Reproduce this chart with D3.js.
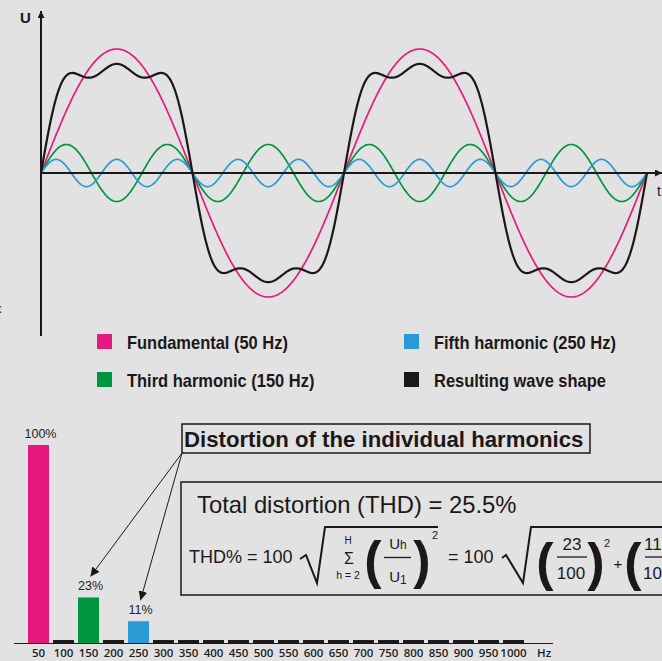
<!DOCTYPE html>
<html>
<head>
<meta charset="utf-8">
<script src="https://cdn.jsdelivr.net/npm/d3@7"></script>
<style>
  html, body { margin: 0; padding: 0; background: #e2e2e2; overflow: hidden; }
  svg { display: block; }
  text { font-family: "Liberation Sans", Arial, sans-serif; fill: #1c1819; }
  .legend text { font-family: "Liberation Sans", Arial, sans-serif; font-weight: bold; font-size: 18.5px; }
</style>
</head>
<body>
<script>
const width = 662, height = 661;

// harmonic content of the wave (percent of fundamental)
const harmonicNames = ["Fundamental (50 Hz)", "Third harmonic (150 Hz)", "Fifth harmonic (250 Hz)"];
const harmonicFreqs = [50, 150, 250];
const harmonicAmps = [100, 23, 11];
const harmonicColors = ["#e61a7e", "#00963f", "#2a9ad6"];
const resultName = "Resulting wave shape";
const resultColor = "#1c1819";

// spectrum bars
const spectrumFreqs = [50, 100, 150, 200, 250, 300, 350, 400, 450, 500, 550, 600, 650, 700, 750, 800, 850, 900, 950, 1000];
const spectrumValues = [100, 1.5, 23, 1.5, 11, 1.5, 1.5, 1.5, 1.5, 1.5, 1.5, 1.5, 1.5, 1.5, 1.5, 1.5, 1.5, 1.5, 1.5, 1.5];
const spectrumLabels = {50: "100%", 150: "23%", 250: "11%"};
const thdValue = 25.5;

const svg = d3.select("body").append("svg")
    .attr("width", width)
    .attr("height", height);

const defs = svg.append("defs");
defs.append("marker")
    .attr("id", "arrow")
    .attr("viewBox", "0 0 10 10")
    .attr("refX", 10).attr("refY", 5)
    .attr("markerWidth", 9).attr("markerHeight", 9)
    .attr("markerUnits", "userSpaceOnUse")
    .attr("orient", "auto")
    .append("path").attr("d", "M0,0 L10,5 L0,10 Z").attr("fill", "#1c1819");
defs.append("marker")
    .attr("id", "axarrow")
    .attr("viewBox", "0 0 10 10")
    .attr("refX", 10).attr("refY", 5)
    .attr("markerWidth", 8).attr("markerHeight", 7)
    .attr("markerUnits", "userSpaceOnUse")
    .attr("orient", "auto")
    .append("path").attr("d", "M0,0 L10,5 L0,10 Z").attr("fill", "#1c1819");

// ---------- wave chart ----------
const tScale = d3.scaleLinear().domain([0, 40]).range([41, 647]);
const uScale = d3.scaleLinear().domain([-100, 100]).range([297, 49]);

const times = d3.range(0, 40.0001, 0.05);
const component = (f, a) => t => a * Math.sin(2 * Math.PI * f * t / 1000);
const waves = harmonicFreqs.map((f, i) => times.map(t => [t, component(f, harmonicAmps[i])(t)]));
const result = times.map(t => [t, d3.sum(harmonicFreqs, (f, i) => component(f, harmonicAmps[i])(t))]);

const line = d3.line().x(d => tScale(d[0])).y(d => uScale(d[1]));

svg.append("line")
    .attr("x1", 41).attr("y1", 336).attr("x2", 41).attr("y2", 11)
    .attr("stroke", "#1c1819").attr("stroke-width", 2)
    .attr("marker-end", "url(#axarrow)");
svg.append("text").attr("x", 20).attr("y", 23)
    .style("font-weight", "bold").style("font-size", "15px").text("U");
svg.append("text").attr("x", 657).attr("y", 196)
    .style("font-size", "14px").text("t");
svg.append("text").attr("x", -5).attr("y", 313)
    .style("font-size", "13px").text("x");

waves.forEach((w, i) => {
    svg.append("path")
        .datum(w)
        .attr("d", line)
        .attr("fill", "none")
        .attr("stroke", harmonicColors[i])
        .attr("stroke-width", 1.7);
});

svg.append("line")
    .attr("x1", 41).attr("y1", uScale(0)).attr("x2", 662).attr("y2", uScale(0))
    .attr("stroke", "#1c1819").attr("stroke-width", 2)
    .attr("marker-end", "url(#axarrow)");

svg.append("path")
    .datum(result)
    .attr("d", line)
    .attr("fill", "none")
    .attr("stroke", resultColor)
    .attr("stroke-width", 2.2);

// legend
const legendItems = [
    {name: harmonicNames[0], color: harmonicColors[0], x: 97, y: 334},
    {name: harmonicNames[2], color: harmonicColors[2], x: 404, y: 334},
    {name: harmonicNames[1], color: harmonicColors[1], x: 97, y: 372},
    {name: resultName, color: resultColor, x: 404, y: 372}
];
const legend = svg.append("g").attr("class", "legend");
legendItems.forEach(d => {
    legend.append("rect")
        .attr("x", d.x).attr("y", d.y)
        .attr("width", 15).attr("height", 15)
        .attr("fill", d.color);
    legend.append("text")
        .attr("transform", "translate(" + (d.x + 30) + "," + (d.y + 15) + ") scale(0.89,1)")
        .text(d.name);
});

// ---------- spectrum ----------
const xBand = d3.scaleBand()
    .domain(spectrumFreqs)
    .range([26, 526])
    .paddingInner(0.16)
    .paddingOuter(0.08);
const yBar = d3.scaleLinear().domain([0, 100]).range([643, 445]);
const barColor = f => f === 50 ? harmonicColors[0] : f === 150 ? harmonicColors[1] : f === 250 ? harmonicColors[2] : resultColor;

svg.selectAll(".bar")
    .data(spectrumFreqs)
    .enter()
    .append("rect")
    .attr("class", "bar")
    .attr("x", f => xBand(f))
    .attr("y", (f, i) => yBar(spectrumValues[i]))
    .attr("width", xBand.bandwidth())
    .attr("height", (f, i) => yBar(0) - yBar(spectrumValues[i]))
    .attr("fill", barColor);

svg.selectAll(".barlabel")
    .data(spectrumFreqs.filter(f => spectrumLabels[f]))
    .enter()
    .append("text")
    .attr("class", "barlabel")
    .attr("x", f => xBand(f) + xBand.bandwidth() / 2 + 2)
    .attr("y", f => yBar(spectrumValues[spectrumFreqs.indexOf(f)]) - 7)
    .attr("text-anchor", "middle")
    .style("font-size", "12.5px")
    .style("fill", "#222")
    .text(f => spectrumLabels[f]);

svg.append("line")
    .attr("x1", 14).attr("x2", 553)
    .attr("y1", yBar(0) + 0.5).attr("y2", yBar(0) + 0.5)
    .attr("stroke", "#1c1819").attr("stroke-width", 1.2);

const xAxis = d3.axisBottom(xBand).tickSize(0).tickPadding(0);
const xg = svg.append("g")
    .attr("transform", "translate(0," + yBar(0) + ")")
    .call(xAxis);
xg.select(".domain").remove();
xg.selectAll("text")
    .attr("dy", null)
    .attr("y", 14)
    .style("font-family", "'Open Sans', 'Liberation Sans', sans-serif")
    .style("font-size", "11.5px")
    .style("font-weight", "600")
    .style("fill", "#1e1e1e");
svg.append("text").attr("x", 537).attr("y", yBar(0) + 14)
    .style("font-family", "'Open Sans', 'Liberation Sans', sans-serif")
    .style("font-size", "11.5px").style("font-weight", "600").style("fill", "#1e1e1e")
    .text("Hz");

// annotation
svg.append("rect")
    .attr("x", 182).attr("y", 424).attr("width", 408).attr("height", 29)
    .attr("fill", "none").attr("stroke", "#1c1819").attr("stroke-width", 1.5);
svg.append("text").attr("x", 184).attr("y", 447)
    .style("font-weight", "bold").style("font-size", "22.2px")
    .text("Distortion of the individual harmonics");
[150, 250].forEach(f => {
    const i = spectrumFreqs.indexOf(f);
    svg.append("line")
        .attr("x1", 182).attr("y1", 453)
        .attr("x2", xBand(f) + xBand.bandwidth() / 2 + 2)
        .attr("y2", yBar(spectrumValues[i]) - 21)
        .attr("stroke", "#1c1819").attr("stroke-width", 1)
        .attr("marker-end", "url(#arrow)");
});

// THD box
svg.append("rect")
    .attr("x", 181).attr("y", 482).attr("width", 500).attr("height", 113)
    .attr("fill", "none").attr("stroke", "#1c1819").attr("stroke-width", 1.5);
svg.append("text").attr("x", 197).attr("y", 513)
    .style("font-size", "23.8px")
    .text("Total distortion (THD) = " + thdValue + "%");

const f = svg.append("g").attr("class", "formula");
const txt = (x, y, s, size, anchor, weight) => f.append("text")
    .attr("x", x).attr("y", y)
    .attr("text-anchor", anchor || "start")
    .style("font-size", size + "px")
    .style("font-weight", weight || "normal")
    .text(s);
const rule = (x1, x2, y, w) => f.append("line")
    .attr("x1", x1).attr("x2", x2).attr("y1", y).attr("y2", y)
    .attr("stroke", "#1c1819").attr("stroke-width", w || 1.3);

txt(189, 563, "THD% = 100", 18);
f.append("path").attr("d", "M300,559 L306,555 L317,583 L325,527 L438,527")
    .attr("fill", "none").attr("stroke", "#1c1819").attr("stroke-width", 2).attr("stroke-linejoin", "miter");
txt(348, 544, "H", 10, "middle");
txt(349, 564, "Σ", 16, "middle");
txt(348, 579, "h = 2", 10.5, "middle");
txt(373, 578, "(", 52, "middle", "bold");
f.append("text").attr("x", 398).attr("y", 549).attr("text-anchor", "middle").style("font-size", "15px")
    .call(t => { t.append("tspan").text("U"); t.append("tspan").style("font-size", "12px").text("h"); });
rule(384, 411, 557.5);
f.append("text").attr("x", 398).attr("y", 582).attr("text-anchor", "middle").style("font-size", "15px")
    .call(t => { t.append("tspan").text("U"); t.append("tspan").attr("dy", 2).style("font-size", "12px").text("1"); });
txt(422, 578, ")", 52, "middle", "bold");
txt(435, 539, "2", 11, "middle");

txt(448, 563, "= 100", 18);
f.append("path").attr("d", "M502,558 L506,555 L523,583 L531,527 L665,527")
    .attr("fill", "none").attr("stroke", "#1c1819").attr("stroke-width", 2);
txt(545, 580, "(", 52, "middle", "bold");
txt(572, 550, "23", 17, "middle");
rule(557, 587, 557);
txt(571, 579, "100", 17, "middle");
txt(596, 580, ")", 52, "middle", "bold");
txt(607, 547, "2", 11, "middle");
txt(618, 569, "+", 15, "middle");
txt(633, 580, "(", 52, "middle", "bold");
txt(644, 550, "11", 17);
rule(645, 670, 557);
txt(643, 579, "100", 17);
</script>
</body>
</html>
